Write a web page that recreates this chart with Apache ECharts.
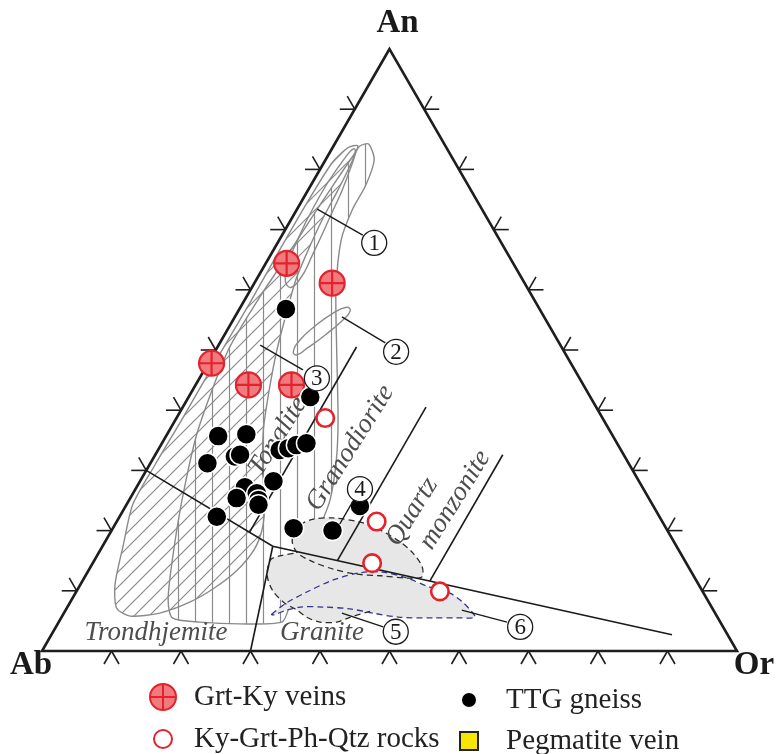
<!DOCTYPE html>
<html>
<head>
<meta charset="utf-8">
<script src="https://cdn.jsdelivr.net/npm/echarts@6/dist/echarts.min.js"></script>
<style>
  html, body { margin: 0; padding: 0; background: #fff; }
  #chart { width: 776px; height: 754px; }
</style>
</head>
<body>
<div id="chart"></div>
<script>
// Normative An-Ab-Or feldspar triangle (classification after O'Connor / Barker).
// Samples are [An, Ab, Or] in %, outlines and anchors are [An, Or] in % (Ab = rest).

const grtKyVeins = [
  [64.4, 32.6, 3.0], [61.1, 27.7, 11.2], [47.8, 51.7, 0.5],
  [44.2, 48.2, 7.6], [44.2, 42.0, 13.8]
];
const kyGrtPhQtzRocks = [
  [38.7, 39.9, 21.4], [21.5, 41.1, 37.4], [14.6, 45.2, 40.2], [9.9, 37.8, 52.3]
];
const ttgGneiss = [
  [56.8, 36.5, 6.7], [42.2, 40.3, 17.5], [35.7, 56.8, 7.5], [36.0, 52.6, 11.4],
  [32.3, 56.1, 11.6], [32.6, 55.2, 12.2], [31.2, 60.6, 8.2], [33.4, 49.1, 17.5],
  [33.7, 47.7, 18.6], [34.2, 46.3, 19.5], [34.5, 44.7, 20.8], [28.2, 52.6, 19.2],
  [27.2, 57.2, 15.6], [26.2, 56.0, 17.8], [25.1, 56.3, 18.6], [24.3, 56.7, 19.0],
  [25.4, 59.3, 15.3], [22.3, 63.7, 14.0], [20.4, 53.6, 26.0], [20.0, 48.2, 31.8],
  [24.1, 42.2, 33.7]
];
const pegmatiteVein = [];

const tickValues = [10, 20, 30, 40, 50, 60, 70, 80, 90];

// Rock-type boundaries
const boundaryLines = [
  [[30, 0], [17.4, 24.5], [2.7, 89.3]],
  [[17.4, 24.5], [0, 30]],
  [[19.7, 20], [50.5, 20]],
  [[15.0, 35], [40.5, 35]],
  [[11.6, 50], [32.6, 50]]
];

// Reference fields
const fieldVertical = [
  [84.2, 4.9], [81.6, 7.0], [77.4, 7.9], [73.3, 8.0], [68.3, 8.9], [60.0, 12.3],
  [50.0, 17.4], [38.4, 23.4], [31.7, 26.5], [25.1, 28.9], [20.1, 29.7], [15.9, 29.9],
  [11.0, 30.6], [6.8, 32.0], [4.8, 32.1], [4.5, 26.2], [4.8, 20.3], [5.5, 16.0],
  [8.5, 13.9], [15.1, 11.2], [25.1, 7.6], [36.7, 4.1], [50.0, 1.8], [58.3, 1.9],
  [64.9, 2.4], [71.6, 2.8], [77.4, 3.2], [81.9, 3.6], [83.9, 3.8]
];
const fieldDiagonal = [
  [83.9, 3.5], [80.7, 4.0], [76.6, 4.3], [71.6, 4.5], [66.6, 5.0], [61.6, 5.7],
  [55.8, 7.2], [50.0, 8.8], [43.4, 11.0], [36.7, 13.5], [30.1, 16.7], [24.3, 19.9],
  [20.1, 21.6], [16.8, 22.1], [13.5, 21.4], [10.5, 19.6], [8.1, 17.2], [6.3, 13.8],
  [5.8, 9.8], [7.1, 7.2], [11.0, 5.0], [17.6, 2.9], [24.3, 0.9], [30.9, 0.8],
  [38.4, 0.9], [48.0, 0.9], [57.5, 1.0], [65.8, 0.9], [74.1, 0.9], [81.1, 1.2],
  [83.6, 2.2]
];
// inner outline of the upper part of the hatched fields
const fieldInner = [
  [83.4, 3.3], [78.5, 4.6], [72.0, 5.4], [66.0, 6.0], [61.5, 6.2], [60.5, 5.2],
  [63.0, 3.6], [68.5, 2.6], [74.5, 2.2], [80.0, 2.4]
];
const field2 = [
  [49.7, 11.3], [51.7, 11.3], [54.0, 12.3], [56.1, 13.8], [57.1, 15.3],
  [56.5, 16.1], [55.0, 15.8], [52.5, 14.5], [50.3, 13.0], [49.2, 12.1]
];
const field4 = [
  [20.9, 26.7], [21.9, 28.1], [22.1, 30.8], [21.4, 35.1], [20.1, 38.6], [18.1, 42.5],
  [16.3, 45.2], [14.0, 47.7], [12.3, 48.5], [12.1, 46.9], [12.5, 42.4], [12.8, 38.6],
  [13.6, 35.1], [14.8, 31.6], [16.3, 28.6], [18.4, 26.8]
];
const field5 = [
  [15.1, 25.3], [15.8, 26.3], [16.3, 28.6], [14.8, 31.6], [13.6, 35.1], [12.8, 38.6],
  [12.5, 42.4], [12.1, 46.9], [10.1, 48.5], [7.6, 47.7], [6.6, 43.9], [5.6, 41.5],
  [4.8, 40.0], [4.8, 37.6], [5.6, 35.3], [6.8, 33.3], [8.1, 30.7], [10.1, 28.1],
  [12.6, 26.1]
];
const field6 = [
  [6.1, 30.0], [8.0, 31.2], [9.8, 33.2], [11.8, 36.0], [13.0, 39.3], [13.1, 42.5],
  [12.1, 46.5], [10.6, 50.5], [9.6, 53.9], [8.1, 56.5], [6.5, 58.6], [5.6, 59.5],
  [5.5, 57.0], [5.5, 53.5], [5.6, 48.7], [6.3, 44.4], [7.0, 40.8], [7.3, 36.8],
  [7.3, 33.5], [6.6, 31.4], [6.0, 30.4]
];

// Field numbers with their leader lines
const fieldNumbers = ['1', '2', '3', '4', '5', '6'];
const leaderFrom = [[73.4, 2.9], [55.5, 15.4], [50.8, 6.0], [24.9, 32.3], [4.0, 47.1], [4.8, 64.5]];
const leaderTo = [[69.1, 11.6], [51.2, 23.8], [46.7, 14.2], [21.1, 32.3], [6.3, 40.0], [6.8, 57.0]];
const numberAt = [[67.8, 13.9], [49.7, 26.1], [45.3, 16.9], [26.9, 32.3], [3.2, 49.3], [4.0, 66.8]];

// Rock-type names
const rockNames = ['Trondhjemite', 'Granite', 'Tonalite', 'Granodiorite', 'Quartz', 'monzonite'];
const rockNameAt = [[3.0, 14.9], [3.0, 38.8], [35.7, 16.1], [33.7, 27.5], [23.1, 41.7], [25.1, 46.9]];

// Apices
const apexNames = ['An', 'Ab', 'Or'];
const apexAt = [[100, 0], [0, 0], [0, 100]];

// ---------------------------------------------------------------------------
const SERIF = '"Liberation Serif", "Times New Roman", serif';

// ternary (An, Or) -> cartesian data space of the grid (x along the base, y = An)
function txy(an, or) { return [or + an / 2, an]; }
function px(api, p) { return api.coord(txy(p[0], p[1])); }
function samplePoints(rows) { return rows.map(r => txy(r[0], r[2])); }

function makeHatch(kind) {
  const s = kind === 'v' ? 17 : 15;
  const c = document.createElement('canvas');
  c.width = s; c.height = s;
  const g = c.getContext('2d');
  g.strokeStyle = '#8a8a8a';
  g.lineWidth = 1.2;
  g.beginPath();
  if (kind === 'v') {
    g.moveTo(8.5, 0); g.lineTo(8.5, s);
  } else {
    g.moveTo(0, s); g.lineTo(s, 0);
    g.moveTo(-2, 2); g.lineTo(2, -2);
    g.moveTo(s - 2, s + 2); g.lineTo(s + 2, s - 2);
  }
  g.stroke();
  return c;
}
const hatchV = makeHatch('v');
const hatchD = makeHatch('d');

const hatched = [
  { pts: fieldVertical, pattern: hatchV },
  { pts: fieldDiagonal, pattern: hatchD }
];
const grayFills = [field5, field4, field6];
const dashedEdges = [
  { pts: field4, closed: true, color: '#2b2b2b' },
  { pts: field5.slice(10).concat(field5.slice(0, 3)), closed: false, color: '#2b2b2b' },
  { pts: field6, closed: true, color: '#34348a' }
];

const chart = echarts.init(document.getElementById('chart'));

const base = { type: 'custom', coordinateSystem: 'cartesian2d', clip: false, silent: true };
const legendText = { fontFamily: SERIF, fontSize: 29, color: '#222', lineHeight: 30 };

const option = {
  animation: false,
  backgroundColor: '#fff',
  grid: { left: 42, right: 39, top: 49, bottom: 103 },
  xAxis: { type: 'value', min: 0, max: 100, show: false },
  yAxis: { type: 'value', min: 0, max: 100, show: false },
  legend: [
    { data: ['Grt-Ky veins'], left: 149, top: 682, itemWidth: 26, itemHeight: 26, pad: 13 },
    { data: ['Ky-Grt-Ph-Qtz rocks'], left: 153, top: 724, itemWidth: 18, itemHeight: 18, pad: 17 },
    { data: ['TTG gneiss'], left: 460, top: 685, itemWidth: 16, itemHeight: 16, pad: 24 },
    { data: ['Pegmatite vein'], left: 459, top: 726, itemWidth: 18, itemHeight: 18, pad: 23 }
  ].map(l => {
    const pad = l.pad; delete l.pad;
    return Object.assign(l, {
      selectedMode: false, orient: 'horizontal', padding: 0,
      textStyle: Object.assign({ padding: [0, 0, 0, pad] }, legendText)
    });
  }),
  series: [
    Object.assign({}, base, {
      name: 'hatched', z: 1,
      data: hatched.map((_, i) => [i]),
      renderItem(params, api) {
        const f = hatched[params.dataIndex];
        return {
          type: 'polygon',
          shape: { points: f.pts.map(p => px(api, p)), smooth: 0.25 },
          style: { fill: { image: f.pattern, repeat: 'repeat' }, stroke: '#8a8a8a', lineWidth: 1.4 }
        };
      }
    }),
    Object.assign({}, base, {
      name: 'fieldOutlines', z: 2,
      data: [[0], [1]],
      renderItem(params, api) {
        const pts = params.dataIndex === 0 ? field2 : fieldInner;
        return {
          type: 'polygon',
          shape: { points: pts.map(p => px(api, p)), smooth: 0.5 },
          style: { fill: 'none', stroke: '#8a8a8a', lineWidth: 1.4 }
        };
      }
    }),
    Object.assign({}, base, {
      name: 'grayFields', z: 3,
      data: grayFills.map((_, i) => [i]),
      renderItem(params, api) {
        return {
          type: 'polygon',
          shape: { points: grayFills[params.dataIndex].map(p => px(api, p)), smooth: 0.3 },
          style: { fill: '#e7e7e7', stroke: 'none' }
        };
      }
    }),
    Object.assign({}, base, {
      name: 'fieldEdges', z: 4,
      data: dashedEdges.map((_, i) => [i]),
      renderItem(params, api) {
        const e = dashedEdges[params.dataIndex];
        return {
          type: e.closed ? 'polygon' : 'polyline',
          shape: { points: e.pts.map(p => px(api, p)), smooth: 0.3 },
          style: { fill: 'none', stroke: e.color, lineWidth: 1.3, lineDash: [6, 4] }
        };
      }
    }),
    Object.assign({}, base, {
      name: 'boundaries', z: 5,
      data: boundaryLines.map((_, i) => [i]),
      renderItem(params, api) {
        return {
          type: 'polyline',
          shape: { points: boundaryLines[params.dataIndex].map(p => px(api, p)) },
          style: { fill: 'none', stroke: '#1a1a1a', lineWidth: 1.6 }
        };
      }
    }),
    Object.assign({}, base, {
      name: 'frame', z: 6,
      data: [[0]],
      renderItem(params, api) {
        return {
          type: 'polygon',
          shape: { points: apexAt.map(p => px(api, p)) },
          style: { fill: 'none', stroke: '#1e1e1e', lineWidth: 2.6, lineJoin: 'miter' }
        };
      }
    }),
    Object.assign({}, base, {
      name: 'ticks', z: 6,
      data: tickValues.map(t => [t]),
      renderItem(params, api) {
        const t = tickValues[params.dataIndex];
        const L = 15, c = 0.5, s = Math.sqrt(3) / 2;
        const sides = [
          { p: px(api, [0, t]), arms: [[-c, s], [c, s]] },
          { p: px(api, [t, 0]), arms: [[-1, 0], [-c, -s]] },
          { p: px(api, [t, 100 - t]), arms: [[1, 0], [c, -s]] }
        ];
        const children = [];
        sides.forEach(sd => sd.arms.forEach(a => children.push({
          type: 'line',
          shape: { x1: sd.p[0], y1: sd.p[1], x2: sd.p[0] + a[0] * L, y2: sd.p[1] + a[1] * L },
          style: { stroke: '#1e1e1e', lineWidth: 1.6 }
        })));
        return { type: 'group', children };
      }
    }),
    Object.assign({}, base, {
      name: 'rockNames', z: 7,
      data: rockNames.map((_, i) => [i]),
      renderItem(params, api) {
        const i = params.dataIndex;
        const p = px(api, rockNameAt[i]);
        return {
          type: 'text', x: p[0], y: p[1],
          rotation: i < 2 ? 0 : 58 * Math.PI / 180,
          style: {
            text: rockNames[i], fill: '#4d4d4d', align: 'center', verticalAlign: 'middle',
            font: 'italic 27px ' + SERIF
          }
        };
      }
    }),
    Object.assign({}, base, {
      name: 'apices', z: 7,
      data: apexNames.map((_, i) => [i]),
      renderItem(params, api) {
        const i = params.dataIndex;
        const p = px(api, apexAt[i]);
        const off = [[8, -26], [-11, 14], [17, 14]][i];
        return {
          type: 'text', x: p[0] + off[0], y: p[1] + off[1],
          style: {
            text: apexNames[i], fill: '#1a1a1a', align: 'center', verticalAlign: 'middle',
            font: 'bold 33px ' + SERIF
          }
        };
      }
    }),
    {
      name: 'Grt-Ky veins', type: 'scatter', z: 10,
      symbol: 'path://M0,-10A10,10,0,1,1,0,10A10,10,0,1,1,0,-10ZM0,-10L0,10M-10,0L10,0',
      symbolSize: 25,
      itemStyle: { color: '#f07a7e', borderColor: '#e3222b', borderWidth: 2.2, opacity: 1 },
      data: samplePoints(grtKyVeins)
    },
    {
      name: 'Ky-Grt-Ph-Qtz rocks', type: 'scatter', z: 10,
      symbol: 'circle', symbolSize: 17.5,
      itemStyle: { color: '#ffffff', borderColor: '#e3222b', borderWidth: 2.6, opacity: 1 },
      data: samplePoints(kyGrtPhQtzRocks)
    },
    {
      name: 'TTG gneiss', type: 'scatter', z: 10,
      symbol: 'circle', symbolSize: 20,
      itemStyle: { color: '#000000', borderColor: '#ffffff', borderWidth: 1.5, opacity: 1 },
      data: samplePoints(ttgGneiss)
    },
    {
      name: 'Pegmatite vein', type: 'scatter', z: 10,
      symbol: 'path://M0,0L10,0L10,10L0,10Z', symbolSize: 17,
      itemStyle: { color: '#f6e600', borderColor: '#222', borderWidth: 1.2, opacity: 1 },
      data: samplePoints(pegmatiteVein)
    },
    Object.assign({}, base, {
      name: 'fieldNumbers', z: 12,
      data: fieldNumbers.map((_, i) => [i]),
      renderItem(params, api) {
        const i = params.dataIndex;
        const a = px(api, leaderFrom[i]), b = px(api, leaderTo[i]), c = px(api, numberAt[i]);
        return {
          type: 'group',
          children: [
            { type: 'line', shape: { x1: a[0], y1: a[1], x2: b[0], y2: b[1] },
              style: { stroke: '#1a1a1a', lineWidth: 1.4 } },
            { type: 'circle', shape: { cx: c[0], cy: c[1], r: 12.5 },
              style: { fill: '#fff', stroke: '#1a1a1a', lineWidth: 1.3 } },
            { type: 'text', x: c[0], y: c[1] + 1,
              style: { text: fieldNumbers[i], fill: '#1a1a1a', align: 'center', verticalAlign: 'middle',
                       font: '23px ' + SERIF } }
          ]
        };
      }
    })
  ]
};

chart.setOption(option);
</script>
</body>
</html>
